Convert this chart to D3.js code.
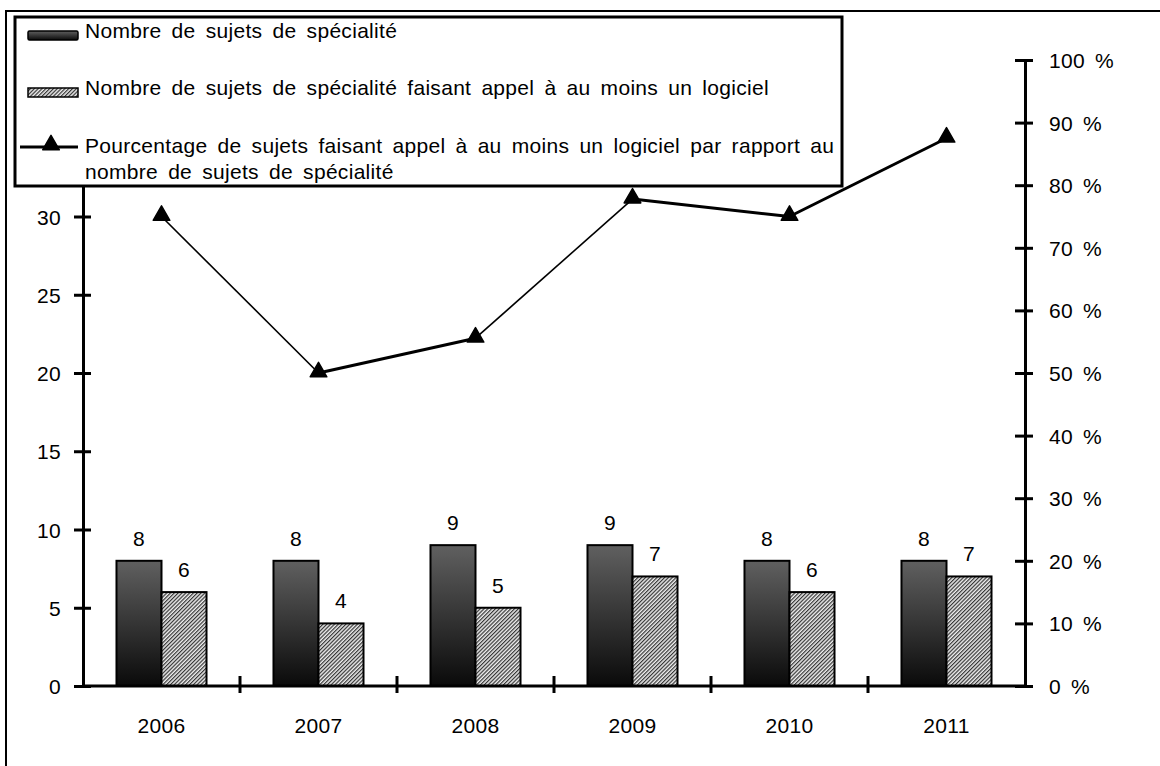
<!DOCTYPE html>
<html lang="fr">
<head>
<meta charset="utf-8">
<script src="https://cdn.jsdelivr.net/npm/d3@7"></script>
<style>
  html, body { margin: 0; padding: 0; background: #fff; }
  svg { display: block; font-family: "Liberation Sans", Arial, sans-serif; }
  svg text { word-spacing: 4px; letter-spacing: 0.3px; }
</style>
</head>
<body>
<svg id="chart" width="1160" height="766"></svg>
<script>
// Sujets de spécialité par année
const years = ["2006", "2007", "2008", "2009", "2010", "2011"];
const totalSubjects = [8, 8, 9, 9, 8, 8];
const softwareSubjects = [6, 4, 5, 7, 6, 7];
const leftTicks = [0, 5, 10, 15, 20, 25, 30, 35, 40];
const rightTicks = [0, 0.1, 0.2, 0.3, 0.4, 0.5, 0.6, 0.7, 0.8, 0.9, 1.0];
const legendLabels = [
  "Nombre de sujets de spécialité",
  "Nombre de sujets de spécialité faisant appel à au moins un logiciel",
  ["Pourcentage de sujets faisant appel à au moins un logiciel par rapport au",
   "nombre de sujets de spécialité"]
];

const share = years.map((y, i) => softwareSubjects[i] / totalSubjects[i]);

const svg = d3.select("#chart");
const plot = { left: 83, right: 1025, top: 60, bottom: 686 };
const FS = 21;
const FONT = "Liberation Sans, Arial, sans-serif";

// defs: gradient for dark bars, hatch for second series
const defs = svg.append("defs");
const grad = defs.append("linearGradient")
  .attr("id", "darkGrad").attr("x1", 0).attr("y1", 0).attr("x2", 0).attr("y2", 1);
grad.append("stop").attr("offset", "0%").attr("stop-color", "#606060");
grad.append("stop").attr("offset", "100%").attr("stop-color", "#0a0a0a");

const hatch = defs.append("pattern")
  .attr("id", "hatch").attr("patternUnits", "userSpaceOnUse")
  .attr("width", 2.7).attr("height", 2.7)
  .attr("patternTransform", "rotate(45)");
hatch.append("rect").attr("width", 2.7).attr("height", 2.7).attr("fill", "#eeeeee");
hatch.append("rect").attr("x", 0).attr("y", 0).attr("width", 1.2).attr("height", 2.7).attr("fill", "#333333");

// outer frame (left and top edges visible)
svg.append("path")
  .attr("d", "M6,766 L6,11 L1160,11")
  .attr("fill", "none").attr("stroke", "#000").attr("stroke-width", 2);

// scales
const x = d3.scaleBand().domain(years).range([plot.left, plot.right]).padding(0);
const xSub = d3.scaleBand().domain(["total", "soft"]).range([0, x.bandwidth()])
  .paddingInner(0).paddingOuter(0.744);
const yLeft = d3.scaleLinear().domain([0, 40]).range([plot.bottom, plot.top]);
const yRight = d3.scaleLinear().domain([0, 1]).range([plot.bottom, plot.top]);

// bars
const groups = svg.append("g").selectAll("g")
  .data(years).join("g")
  .attr("transform", d => `translate(${x(d)},0)`);

groups.append("rect")
  .attr("x", xSub("total"))
  .attr("y", (d, i) => yLeft(totalSubjects[i]))
  .attr("width", xSub.bandwidth())
  .attr("height", (d, i) => yLeft(0) - yLeft(totalSubjects[i]))
  .attr("fill", "url(#darkGrad)")
  .attr("stroke", "#000").attr("stroke-width", 2);

groups.append("rect")
  .attr("x", xSub("soft"))
  .attr("y", (d, i) => yLeft(softwareSubjects[i]))
  .attr("width", xSub.bandwidth())
  .attr("height", (d, i) => yLeft(0) - yLeft(softwareSubjects[i]))
  .attr("fill", "url(#hatch)")
  .attr("stroke", "#000").attr("stroke-width", 2);

// value labels
groups.append("text")
  .attr("x", xSub("total") + xSub.bandwidth() / 2)
  .attr("y", (d, i) => yLeft(totalSubjects[i]) - 15)
  .attr("text-anchor", "middle").attr("font-size", FS)
  .text((d, i) => totalSubjects[i]);
groups.append("text")
  .attr("x", xSub("soft") + xSub.bandwidth() / 2)
  .attr("y", (d, i) => yLeft(softwareSubjects[i]) - 15)
  .attr("text-anchor", "middle").attr("font-size", FS)
  .text((d, i) => softwareSubjects[i]);

// x axis: line with crossing ticks at category boundaries
const xAxisG = svg.append("g");
xAxisG.append("line")
  .attr("x1", plot.left).attr("x2", plot.right)
  .attr("y1", plot.bottom).attr("y2", plot.bottom)
  .attr("stroke", "#000").attr("stroke-width", 3);
const bounds = years.slice(1).map(y => x(y));
xAxisG.selectAll("line.tick").data(bounds).join("line")
  .attr("class", "tick")
  .attr("x1", d => d).attr("x2", d => d)
  .attr("y1", plot.bottom - 10).attr("y2", plot.bottom + 7)
  .attr("stroke", "#000").attr("stroke-width", 3);
xAxisG.selectAll("text").data(years).join("text")
  .attr("x", d => x(d) + x.bandwidth() / 2)
  .attr("y", 733)
  .attr("text-anchor", "middle").attr("font-size", FS)
  .text(d => d);

// left axis
const leftAxis = d3.axisLeft(yLeft).tickValues(leftTicks).tickSize(0).tickPadding(22);
const lg = svg.append("g").attr("transform", `translate(${plot.left},0)`).call(leftAxis);
lg.attr("font-size", FS).attr("font-family", FONT);
lg.select(".domain").attr("stroke", "#000").attr("stroke-width", 3);
lg.selectAll(".tick text").attr("fill", "#000").attr("dy", "0.36em");
lg.selectAll(".tick").append("line")
  .attr("x1", -9).attr("x2", 8).attr("stroke", "#000").attr("stroke-width", 3);

// right axis
const rightAxis = d3.axisRight(yRight).tickValues(rightTicks).tickSize(0).tickPadding(24)
  .tickFormat(d => Math.round(d * 100) + " %");
const rg = svg.append("g").attr("transform", `translate(${plot.right},0)`).call(rightAxis);
rg.attr("font-size", FS).attr("font-family", FONT);
rg.select(".domain").attr("stroke", "#000").attr("stroke-width", 3);
rg.selectAll(".tick text").attr("fill", "#000").attr("dy", "0.36em");
rg.selectAll(".tick").append("line")
  .attr("x1", -10).attr("x2", 8).attr("stroke", "#000").attr("stroke-width", 3);

// percentage line, segment by segment
const pts = years.map((y, i) => [x(y) + x.bandwidth() / 2, yRight(share[i])]);
const segs = d3.pairs(pts);
svg.append("g").selectAll("line").data(segs).join("line")
  .attr("x1", d => d[0][0]).attr("y1", d => d[0][1])
  .attr("x2", d => d[1][0]).attr("y2", d => d[1][1])
  .attr("stroke", "#000")
  .attr("stroke-width", d => {
    const ang = Math.abs(Math.atan2(d[1][1] - d[0][1], d[1][0] - d[0][0]));
    return ang > Math.PI / 5 ? 1.6 : 3;
  });

const tri = d3.symbol().type(d3.symbolTriangle).size(120);
svg.append("g").selectAll("path").data(pts).join("path")
  .attr("d", tri)
  .attr("transform", d => `translate(${d[0]},${d[1] - 1})`)
  .attr("fill", "#000").attr("stroke", "#000").attr("stroke-width", 1.5)
  .attr("stroke-linejoin", "round");

// legend
const leg = svg.append("g");
leg.append("rect")
  .attr("x", 15).attr("y", 17).attr("width", 827).attr("height", 169)
  .attr("fill", "#fff").attr("stroke", "#000").attr("stroke-width", 3);

leg.append("rect")
  .attr("x", 28).attr("y", 31).attr("width", 50).attr("height", 9).attr("rx", 1.5)
  .attr("fill", "url(#darkGrad)").attr("stroke", "#000").attr("stroke-width", 1.5);
leg.append("text").attr("x", 85).attr("y", 38).attr("font-size", FS).text(legendLabels[0]);

leg.append("rect")
  .attr("x", 28).attr("y", 88).attr("width", 50).attr("height", 9)
  .attr("fill", "url(#hatch)").attr("stroke", "#000").attr("stroke-width", 1.5);
leg.append("text").attr("x", 85).attr("y", 95).attr("font-size", FS).text(legendLabels[1]);

leg.append("line")
  .attr("x1", 20).attr("x2", 78).attr("y1", 147).attr("y2", 147)
  .attr("stroke", "#000").attr("stroke-width", 3);
leg.append("path").attr("d", tri)
  .attr("transform", "translate(51,145)")
  .attr("fill", "#000").attr("stroke", "#000").attr("stroke-width", 1.5)
  .attr("stroke-linejoin", "round");
leg.append("text").attr("x", 85).attr("y", 153).attr("font-size", FS).text(legendLabels[2][0]);
leg.append("text").attr("x", 85).attr("y", 179).attr("font-size", FS).text(legendLabels[2][1]);
</script>
</body>
</html>
